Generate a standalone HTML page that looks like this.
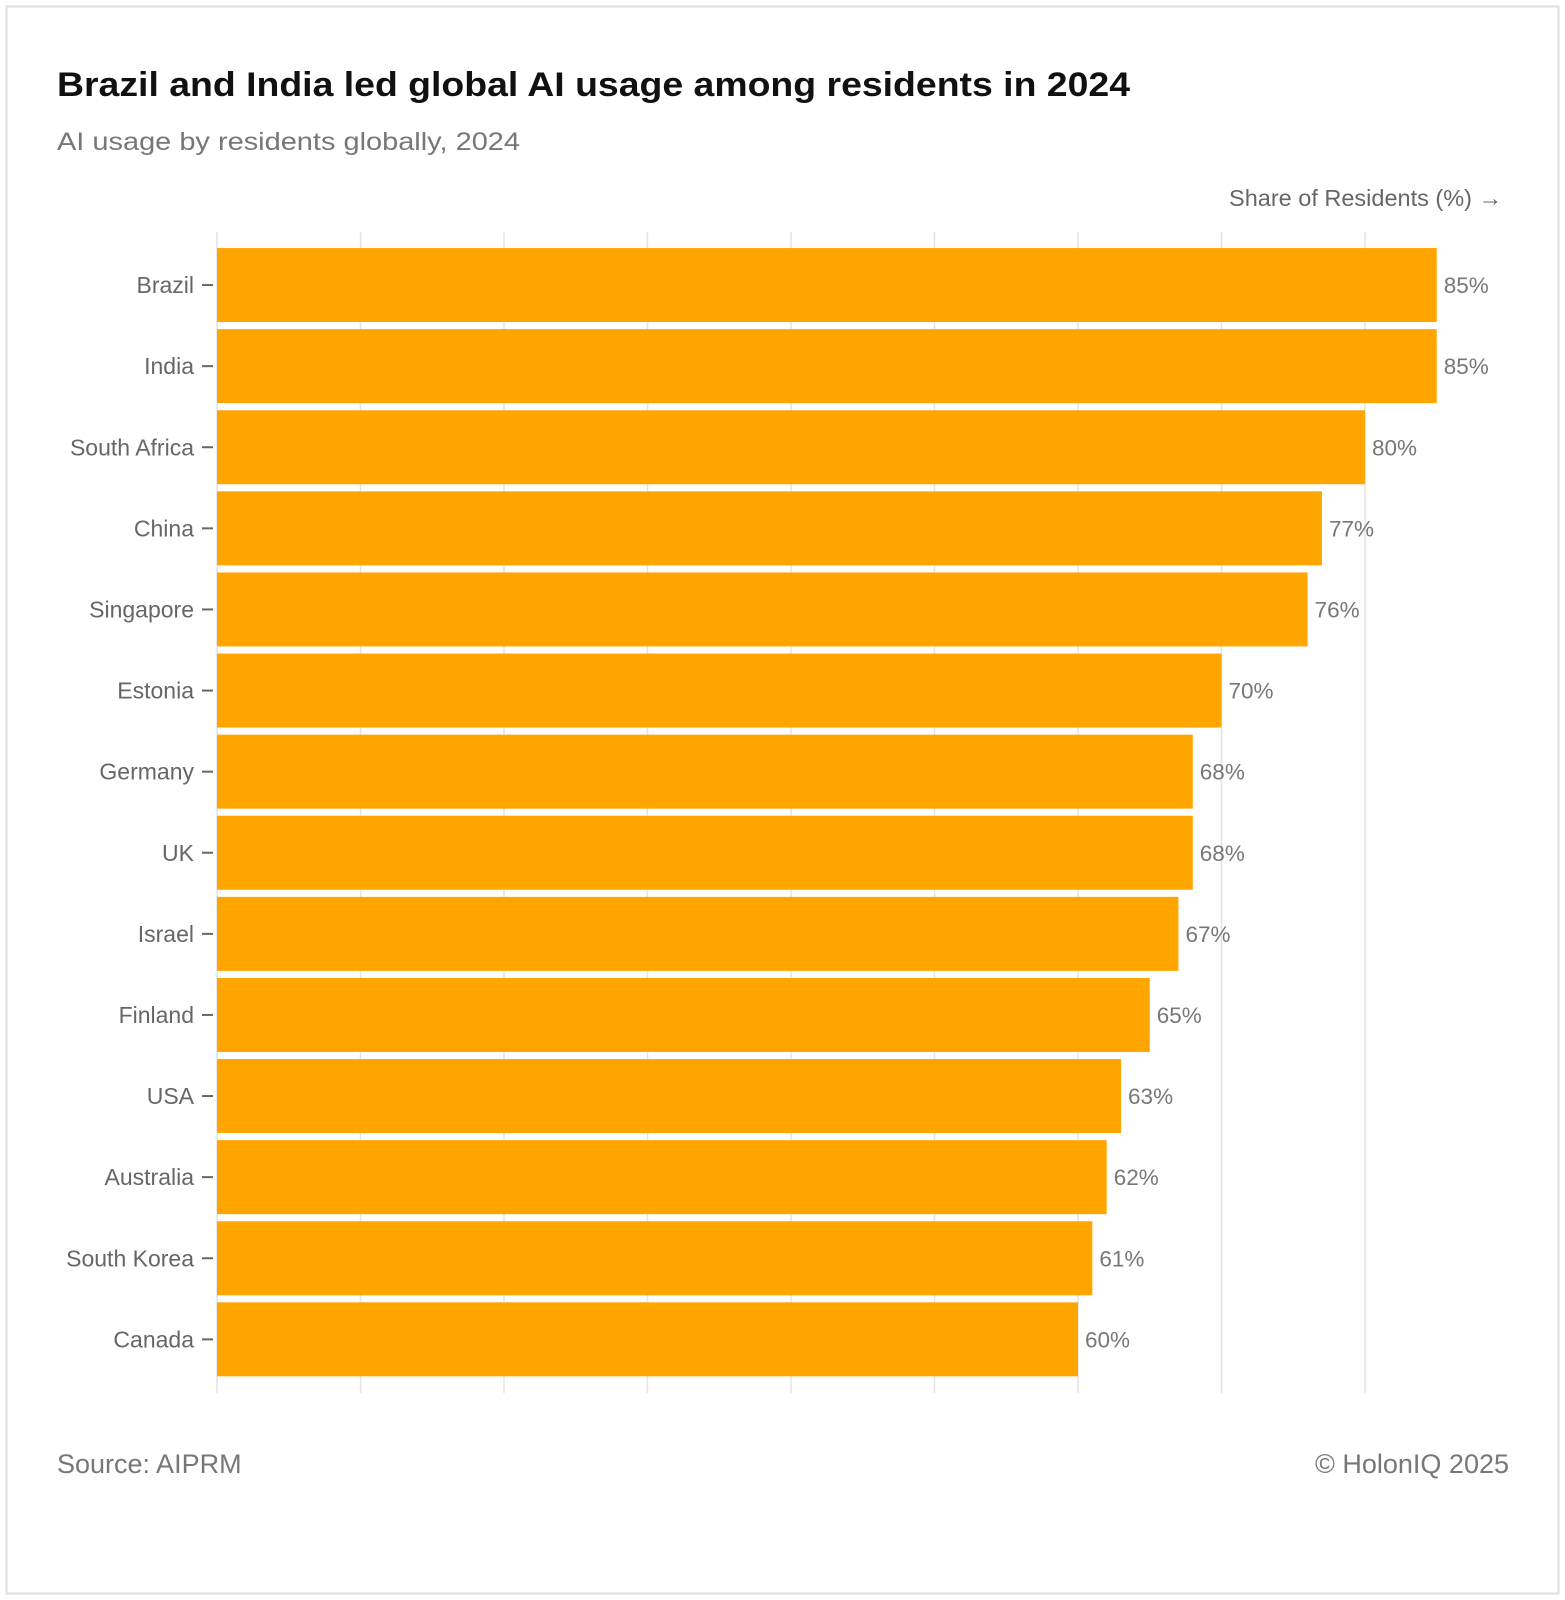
<!DOCTYPE html>
<html><head><meta charset="utf-8"><style>
html,body{margin:0;padding:0;background:#fff;}
svg{display:block;font-family:"Liberation Sans",sans-serif;}
</style></head><body>
<svg id="chart" width="1565" height="1600" viewBox="0 0 1565 1600">
<rect x="6.5" y="6.5" width="1552" height="1587" fill="#fff" stroke="#ddd" stroke-width="2"/>
<text x="57" y="96" font-size="34" font-weight="bold" fill="#111" textLength="1073" lengthAdjust="spacingAndGlyphs">Brazil and India led global AI usage among residents in 2024</text>
<text x="57" y="150" font-size="25" fill="#777" textLength="463" lengthAdjust="spacingAndGlyphs">AI usage by residents globally, 2024</text>
<text x="1502" y="206" font-size="23.5" fill="#666" text-anchor="end">Share of Residents (%) →</text>
<g id="grid"></g><g id="bars"></g><g id="ylab"></g><g id="vals"></g>
<text x="57" y="1473" font-size="27" fill="#777">Source: AIPRM</text>
<text x="1509" y="1473" font-size="27" fill="#777" text-anchor="end">© HolonIQ 2025</text>
</svg>
<script>
const categories=["Brazil","India","South Africa","China","Singapore","Estonia","Germany","UK","Israel","Finland","USA","Australia","South Korea","Canada"];
const values=[85,85,80,77,76,70,68,68,67,65,63,62,61,60];
const gridTicks=[0,10,20,30,40,50,60,70,80];
const NS="http://www.w3.org/2000/svg";
const x0=217,pxPer=14.35,top0=244.5,step=81.1,barH=74;
const x=v=>x0+v*pxPer;
const y=i=>top0+i*step+(step-barH)/2;
function mk(t,a,p){const e=document.createElementNS(NS,t);for(const k in a)e.setAttribute(k,a[k]);p.appendChild(e);return e;}
const g=document.getElementById('grid'),b=document.getElementById('bars'),yl=document.getElementById('ylab'),vl=document.getElementById('vals');
gridTicks.forEach(t=>{const l=mk('line',{x1:x(t),x2:x(t),y1:232,y2:1393,stroke:'#e3e3e3','stroke-width':1.5},g);

});
categories.forEach((c,i)=>{
const r=mk('rect',{x:x0,y:y(i),width:x(values[i])-x0,height:barH,fill:'#FFA500'},b);


const cy=y(i)+barH/2;
const tk=mk('line',{x1:202,x2:213,y1:cy,y2:cy,stroke:'#666','stroke-width':2},yl);


const t=mk('text',{x:194,y:cy+8,'font-size':23,fill:'#666','text-anchor':'end'},yl);t.textContent=c;


const v=mk('text',{x:x(values[i])+7,y:cy+8,'font-size':22.5,fill:'#777'},vl);v.textContent=values[i]+'%';


});
</script>
</body></html>
